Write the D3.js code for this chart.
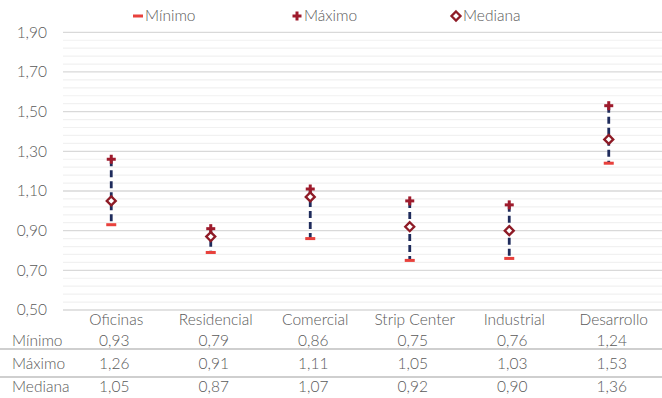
<!DOCTYPE html>
<html>
<head>
<meta charset="utf-8">
<script src="https://cdn.jsdelivr.net/npm/d3@7"></script>
<style>
  body { margin: 0; background: #fff; }
  svg { display: block; font-family: "Lato", "Open Sans", sans-serif; font-weight: 300; }
</style>
</head>
<body>
<svg id="chart" width="662" height="398"></svg>
<script>
// Rangos de valores por tipo de activo
const categories = ["Oficinas", "Residencial", "Comercial", "Strip Center", "Industrial", "Desarrollo"];
const minimo  = [0.93, 0.79, 0.86, 0.75, 0.76, 1.24];
const maximo  = [1.26, 0.91, 1.11, 1.05, 1.03, 1.53];
const mediana = [1.05, 0.87, 1.07, 0.92, 0.90, 1.36];
const yTicks  = [0.50, 0.70, 0.90, 1.10, 1.30, 1.50, 1.70, 1.90];
const seriesNames = ["Mínimo", "Máximo", "Mediana"];

const fmt = v => v.toFixed(2).replace(".", ",");
const textColor = "#595959";
const fontSize = 15.5;
const cMin = "#e8413c", cMax = "#9e1b2c", cMed = "#8e1b26", cLine = "#1f2c5c";

const svg = d3.select("#chart");
const x = d3.scaleBand().domain(categories).range([63.5, 660.5]);
const y = d3.scaleLinear().domain([0.5, 1.9]).range([310, 32.3]);

// Líneas de cuadrícula secundarias y principales
const minor = d3.range(0.54, 1.9, 0.04).filter(v => Math.abs(((v - 0.5) / 0.2) - Math.round((v - 0.5) / 0.2)) > 0.01);
svg.append("g").selectAll("line").data(minor).join("line")
  .attr("x1", 63).attr("x2", 662)
  .attr("y1", d => y(d)).attr("y2", d => y(d))
  .attr("stroke", "#f1f1f1").attr("stroke-width", 1.2);
svg.append("g").selectAll("line").data(yTicks).join("line")
  .attr("x1", 63).attr("x2", 662)
  .attr("y1", d => y(d)).attr("y2", d => y(d))
  .attr("stroke", "#d9d9d9").attr("stroke-width", 1.3);

// Eje Y
const yAxis = svg.append("g").attr("transform", "translate(50,0)")
  .call(d3.axisLeft(y).tickValues(yTicks).tickFormat(fmt).tickSize(0));
yAxis.select(".domain").remove();
yAxis.selectAll("text").attr("fill", textColor).attr("font-size", fontSize)
  .attr("font-family", "Lato, 'Open Sans', sans-serif").attr("font-weight", 300).attr("dx", 0);

const cx = c => x(c) + x.bandwidth() / 2 - 2;

// Rango (línea discontinua)
svg.append("g").selectAll("line").data(categories).join("line")
  .attr("x1", cx).attr("x2", cx)
  .attr("y1", (c, i) => y(maximo[i])).attr("y2", (c, i) => y(minimo[i]))
  .attr("stroke", cLine).attr("stroke-width", 2.8)
  .attr("stroke-dasharray", "7,4");

// Mínimo
svg.append("g").selectAll("rect").data(categories).join("rect")
  .attr("x", c => cx(c) - 5).attr("y", (c, i) => y(minimo[i]) - 1.5)
  .attr("width", 10).attr("height", 3).attr("fill", cMin);

// Máximo
const plus = (g, px, py) => {
  g.append("rect").attr("x", px - 4.5).attr("y", py - 1.5).attr("width", 9).attr("height", 3).attr("fill", cMax);
  g.append("rect").attr("x", px - 1.5).attr("y", py - 4.5).attr("width", 3).attr("height", 9).attr("fill", cMax);
};
const gMax = svg.append("g");
categories.forEach((c, i) => plus(gMax, cx(c), y(maximo[i])));

// Mediana
const diamond = (g, px, py) => g.append("path")
  .attr("d", `M${px},${py - 4.5}L${px + 4.5},${py}L${px},${py + 4.5}L${px - 4.5},${py}Z`)
  .attr("fill", "#fff").attr("stroke", cMed).attr("stroke-width", 2.3);
const gMed = svg.append("g");
categories.forEach((c, i) => diamond(gMed, cx(c), y(mediana[i])));

// Leyenda
const lg = svg.append("g").attr("font-size", fontSize).attr("fill", textColor);
const legendX = [138, 297, 456];
svg.append("rect").attr("x", legendX[0] - 5).attr("y", 14.5).attr("width", 10).attr("height", 3).attr("fill", cMin);
plus(svg.append("g"), legendX[1], 16);
diamond(svg.append("g"), legendX[2], 16);
seriesNames.forEach((n, i) => lg.append("text")
  .attr("x", legendX[i] + 7).attr("y", 21).text(n));

// Tabla de datos
const table = svg.append("g").attr("font-size", fontSize).attr("fill", textColor);
table.selectAll("text.cat").data(categories).join("text").attr("class", "cat")
  .attr("x", c => cx(c) + 5).attr("y", 325).attr("text-anchor", "middle").text(c => c);
const rows = [minimo, maximo, mediana];
const rowY = [346, 369, 392];
rows.forEach((vals, r) => {
  table.append("text").attr("x", 12).attr("y", rowY[r]).text(seriesNames[r]);
  table.selectAll(null).data(vals).join("text")
    .attr("x", (v, i) => cx(categories[i]) + 3).attr("y", rowY[r])
    .attr("text-anchor", "middle").text(fmt);
});
[349, 377].forEach(ly => svg.append("line")
  .attr("x1", 0).attr("x2", 662).attr("y1", ly).attr("y2", ly)
  .attr("stroke", "#bfbfbf").attr("stroke-width", 1.5));
</script>
</body>
</html>
